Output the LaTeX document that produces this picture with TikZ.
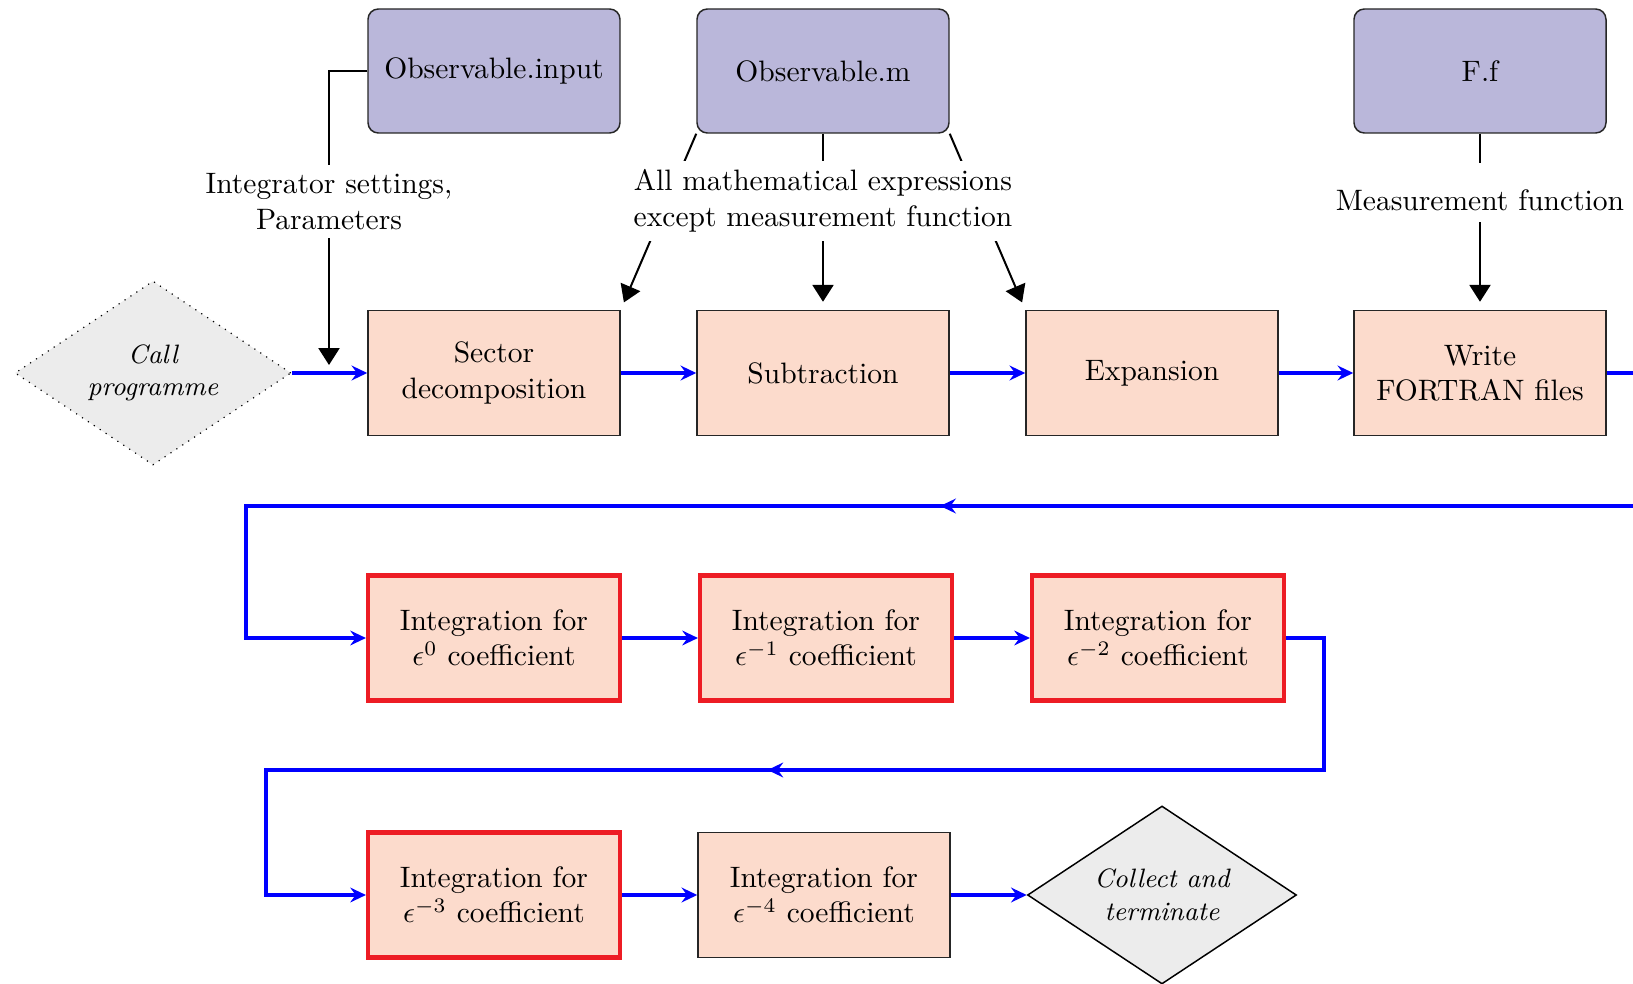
\documentclass[tikz,border=0pt]{standalone}
\usetikzlibrary{shapes.geometric,arrows.meta,decorations.markings}
\definecolor{peach}{RGB}{252,219,204}
\definecolor{lilac}{RGB}{186,183,218}
\definecolor{redline}{RGB}{237,28,36}
\definecolor{blueline}{RGB}{0,0,255}
\newcommand\pxu{0.3385pt}
\begin{document}
\begin{tikzpicture}[x=0.3385pt,y=-0.3385pt,
  proc/.style={rectangle,draw=black!85,line width=0.5pt,fill=peach,minimum width=252*\pxu,minimum height=125*\pxu,align=center,inner sep=2pt},
  integ/.style={proc,draw=redline,line width=1.4pt},
  src/.style={rectangle,rounded corners=3.5pt,draw=black!85,line width=0.5pt,fill=lilac,minimum width=252*\pxu,minimum height=124*\pxu,align=center},
  term/.style={diamond,aspect=1.5,fill=gray!15,align=center,inner sep=0pt,font=\small\itshape},
  flow/.style={draw=blueline,line width=1.36pt,-{Stealth[length=5.3pt,width=5pt,inset=1.8pt]}},
  feed/.style={flow,postaction={decorate},decoration={markings,mark=at position 0.5 with {\arrow[blueline]{Stealth[length=5.3pt,width=5pt,inset=1.8pt]}}}},
  infoarrow/.style={draw=black,line width=0.68pt,-{Triangle[length=5.7pt,width=7.1pt]}},
  lbl/.style={fill=white,align=center,inner sep=3pt}
]
\useasboundingbox (0,0) rectangle (1633,984);
\clip (0,0) rectangle (1633,984);

% sources
\node[src] (obsin) at (494,71) {Observable.input};
\node[src] (obsm) at (823,71) {Observable.m};
\node[src] (ff) at (1480,71) {F.f};

% main row
\node[term,draw=black,dotted,minimum width=276*\pxu,minimum height=184*\pxu] (call) at (153,373) {Call\\programme};
\node[proc] (sector) at (494,373) {Sector\\decomposition};
\node[proc] (sub) at (823,373) {Subtraction};
\node[proc] (exp) at (1152,373) {Expansion};
\node[proc] (fortran) at (1480,373) {Write\\FORTRAN files};

% integration rows
\node[integ] (e0) at (494,638) {Integration for\\$\epsilon^{0}$ coefficient};
\node[integ] (e1) at (826,638) {Integration for\\$\epsilon^{-1}$ coefficient};
\node[integ] (e2) at (1158,638) {Integration for\\$\epsilon^{-2}$ coefficient};
\node[integ] (e3) at (494,895) {Integration for\\$\epsilon^{-3}$ coefficient};
\node[proc] (e4) at (824,895) {Integration for\\$\epsilon^{-4}$ coefficient};
\node[term,draw=black,line width=0.5pt,minimum width=269*\pxu,minimum height=178*\pxu] (collect) at (1162,895) {Collect and\\terminate};

% flow arrows
\draw[flow] (call.east) -- (sector.west);
\draw[flow] (sector.east) -- (sub.west);
\draw[flow] (sub.east) -- (exp.west);
\draw[flow] (exp.east) -- (fortran.west);
\draw[flow] (e0.east) -- (e1.west);
\draw[flow] (e1.east) -- (e2.west);
\draw[flow] (e3.east) -- (e4.west);
\draw[flow] (e4.east) -- (collect.west);

\coordinate (t1) at (1680,506);
\coordinate (t2) at (246,506);
\draw[feed] (fortran.east) -| (t1) -- (t2) |- (e0.west);
\coordinate (t3) at (1324,770);
\coordinate (t4) at (266,770);
\draw[feed] (e2.east) -| (t3) -- (t4) |- (e3.west);

% information arrows
\coordinate (tip1) at (329,365);
\draw[infoarrow] (obsin.west) -| (tip1);
\draw[infoarrow,shorten >=2.7pt] (obsm.south west) -- (sector.north east);
\draw[infoarrow,shorten >=2.7pt] (obsm.south) -- (sub.north);
\draw[infoarrow,shorten >=2.7pt] (obsm.south east) -- (exp.north west);
\draw[infoarrow,shorten >=2.7pt] (ff.south) -- (fortran.north);

% labels
\node[lbl] (l1) at (329,201.5) {Integrator settings,\\Parameters};
\node[lbl] (l2) at (823,201) {All mathematical expressions\\except measurement function};
\node[lbl,inner sep=0pt,text height=16.3pt,text depth=3.7pt,anchor=base] (l3) at (1480,211) {Measurement function};
\end{tikzpicture}
\end{document}
